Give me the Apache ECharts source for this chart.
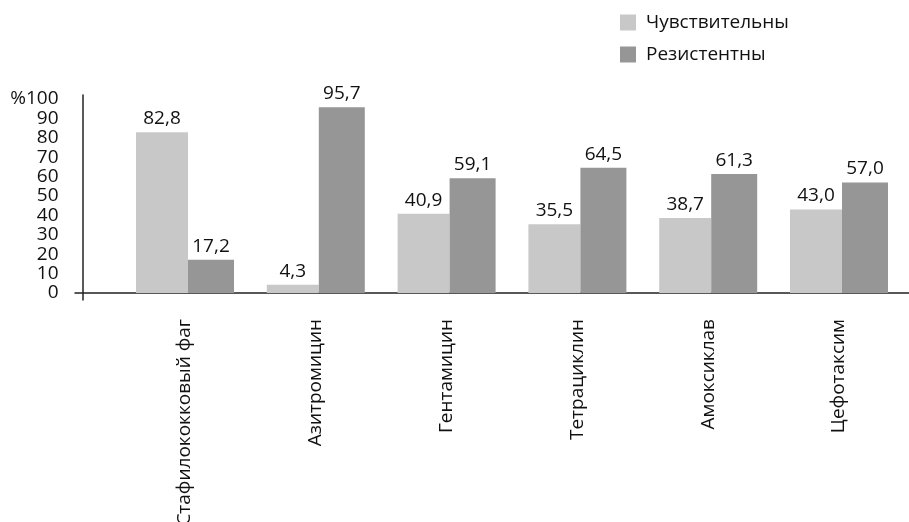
<!DOCTYPE html>
<html>
<head>
<meta charset="utf-8">
<script src="https://cdn.jsdelivr.net/npm/echarts@6/dist/echarts.min.js"></script>
<style>
  html, body { margin: 0; padding: 0; background: #fff; }
  #chart { width: 909px; height: 522px; }
</style>
</head>
<body>
<div id="chart"></div>
<script>
// Antibiotic susceptibility of isolates, percent
const categories = ['Стафилококковый фаг', 'Азитромицин', 'Гентамицин', 'Тетрациклин', 'Амоксиклав', 'Цефотаксим'];
const sensitive = [82.8, 4.3, 40.9, 35.5, 38.7, 43.0];
const resistant = [17.2, 95.7, 59.1, 64.5, 61.3, 57.0];
const seriesNames = ['Чувствительны', 'Резистентны'];
const yTicks = [0, 10, 20, 30, 40, 50, 60, 70, 80, 90, 100];

const FONT = 'Open Sans';
const TEXT = '#111';
const AXIS = '#222';

const fmt = v => v.toFixed(1).replace('.', ',');

const chart = echarts.init(document.getElementById('chart'), null, { renderer: 'canvas' });

const barLabel = {
  show: true,
  position: 'top',
  distance: 4,
  color: TEXT,
  fontFamily: FONT,
  fontSize: 19,
  formatter: p => fmt(p.value)
};

chart.setOption({
  animation: false,
  backgroundColor: '#fff',
  textStyle: { fontFamily: FONT },
  legend: {
    orient: 'vertical',
    left: 615,
    top: 8,
    itemWidth: 16,
    itemHeight: 16,
    itemGap: 13,
    icon: 'rect',
    textStyle: { color: TEXT, fontFamily: FONT, fontSize: 19, padding: [0, 0, 0, 5] },
    data: seriesNames
  },
  grid: [
    // plot area
    { left: 119.6, right: 4.6, top: 99, bottom: 229, outerBoundsMode: 'none' },
    // vertical axis line (runs a little past both ends of the scale)
    { left: 83, width: 10, top: 95, bottom: 222, outerBoundsMode: 'none' },
    // horizontal baseline spanning the full width
    { left: 75, right: 0, bottom: 229, height: 10, outerBoundsMode: 'none' }
  ],
  xAxis: [
    {
      type: 'category',
      gridIndex: 0,
      data: categories,
      axisLine: { show: false },
      axisTick: { show: false },
      axisLabel: {
        rotate: 90,
        margin: 26,
        color: TEXT,
        fontFamily: FONT,
        fontSize: 19,
        interval: 0,
        hideOverlap: false
      }
    },
    { type: 'value', gridIndex: 1, show: false },
    {
      type: 'value',
      gridIndex: 2,
      position: 'bottom',
      axisLine: { show: true, lineStyle: { color: AXIS, width: 1.5 } },
      axisTick: { show: false },
      axisLabel: { show: false },
      splitLine: { show: false }
    }
  ],
  yAxis: [
    {
      type: 'value',
      gridIndex: 0,
      min: yTicks[0],
      max: yTicks[yTicks.length - 1],
      interval: 10,
      offset: 36,
      axisLine: { show: false },
      axisTick: { show: false },
      splitLine: { show: false },
      axisLabel: {
        margin: 25,
        color: TEXT,
        fontFamily: FONT,
        fontSize: 19,
        showMinLabel: true,
        showMaxLabel: true,
        hideOverlap: false,
        formatter: v => (v === 100 ? '%100' : String(v))
      }
    },
    {
      type: 'value',
      gridIndex: 1,
      position: 'left',
      axisLine: { show: true, lineStyle: { color: AXIS, width: 1.5 } },
      axisTick: { show: false },
      axisLabel: { show: false },
      splitLine: { show: false }
    },
    { type: 'value', gridIndex: 2, show: false }
  ],
  series: [
    {
      name: seriesNames[0],
      type: 'bar',
      xAxisIndex: 0,
      yAxisIndex: 0,
      data: sensitive,
      barWidth: 52,
      barGap: '0%',
      itemStyle: { color: '#c8c8c8' },
      label: barLabel
    },
    {
      name: seriesNames[1],
      type: 'bar',
      xAxisIndex: 0,
      yAxisIndex: 0,
      data: resistant,
      barWidth: 46,
      barGap: '0%',
      itemStyle: { color: '#969696' },
      label: barLabel
    }
  ]
});
</script>
</body>
</html>
